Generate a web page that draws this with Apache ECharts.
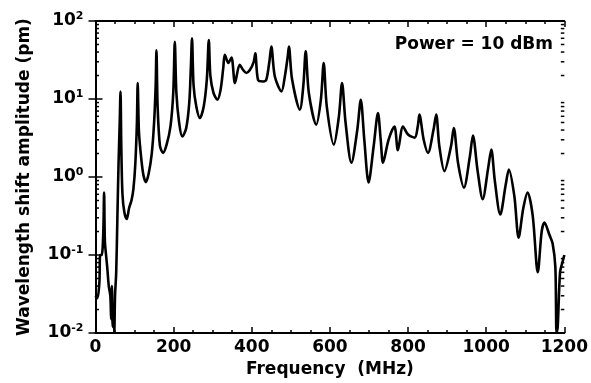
<!DOCTYPE html>
<html>
<head>
<meta charset="utf-8">
<script src="https://cdn.jsdelivr.net/npm/echarts@6/dist/echarts.min.js"></script>
<style>
html,body{margin:0;padding:0;background:#fff;}
#chart{width:591px;height:383px;}
</style>
</head>
<body>
<div id="chart"></div>
<script>
const xTickLabels = ['0','200','400','600','800','1000','1200'];
const yDecades = [0.01, 0.1, 1, 10, 100];
const minorMultipliers = [2,3,4,5,6,7,8,9];
const annotation = 'Power = 10 dBm';
const xName = 'Frequency  (MHz)';
const yName = 'Wavelength shift amplitude (pm)';

const freq = [0,5,10,12,16,20,22,24,27,30,34,38,40,42,44,46,48,50,53,56,59,62,64,66,69,74,80,86,92,97,102,106,108,111,115,122,129,136,144,150,154,156,159,165,173,182,192,199,203,207,214,222,232,240,244,247,251,258,267,277,285,290,294,302,312,320,327,331,340,348,357,369,378,386,395,405,409,416,429,437,445,450,459,476,485,492,495,503,523,532,538,546,565,577,584,592,610,623,631,640,655,670,679,688,699,712,723,730,736,750,765,774,787,800,817,825,829,840,851,865,872,880,893,910,917,928,943,958,966,978,991,1005,1013,1022,1036,1050,1058,1072,1083,1095,1106,1119,1132,1142,1149,1162,1170,1177,1180,1183,1189,1195,1200];
const amp = [0.03,0.028,0.045,0.1,0.1,0.2,0.63,0.15,0.1,0.07,0.04,0.03,0.015,0.04,0.012,0.02,0.01,0.03,0.06,0.3,1.5,5,12.5,2.5,0.6,0.35,0.29,0.4,0.5,0.7,1.5,5,16,4,2.2,1.1,0.86,1.1,2,5,15,42,8,2.5,2.04,2.6,4.5,12,54,12,5,3.3,4.2,9,25,60,15,8,5.7,8,18,57,20,12,9.8,13,25,37,29,34,16,27.5,23.5,21.5,23.5,30,38.6,17.6,16.8,17.6,30,47,19.4,12.5,20,35,47,18,7.3,15,41,12,4.7,10,29,8,2.6,6,16,5,1.52,4,9.8,3,0.85,2.5,6.6,3,1.52,3,4.45,2.2,4.45,3.5,3.2,4.5,6.3,3,2.04,4,6.3,2.5,1.19,2.5,4.25,1.5,0.73,1.8,3.4,1.2,0.52,1.3,2.25,0.9,0.33,0.8,1.25,0.57,0.167,0.4,0.63,0.32,0.06,0.2,0.26,0.18,0.14,0.07,0.01,0.012,0.06,0.08,0.1];

const FONT = 'DejaVu Sans';
const lineData = freq.map((f, i) => [f, amp[i]]);
const minorData = [];
yDecades.slice(0, -1).forEach(d => minorMultipliers.forEach(m => minorData.push([0, +(m * d).toPrecision(3)])));

const xMin = +xTickLabels[0], xMax = +xTickLabels[xTickLabels.length - 1];
const xInterval = +xTickLabels[1] - +xTickLabels[0];

const chart = echarts.init(document.getElementById('chart'), null, {renderer: 'canvas'});
const axisLineStyle = {color: '#000', width: 2};
function supLabel(v) {
  const e = Math.round(Math.log10(v));
  return '{b|10}{s|' + (e < 0 ? '-' + (-e) : '' + e) + '}';
}
chart.setOption({
  animation: false,
  backgroundColor: '#fff',
  grid: {left: 95.5, right: 26, top: 21, bottom: 49, containLabel: false},
  xAxis: [{
    type: 'value', min: xMin, max: xMax, interval: xInterval,
    position: 'bottom',
    name: xName, nameLocation: 'middle', nameGap: 28,
    nameTextStyle: {fontFamily: FONT, fontWeight: 'bold', fontSize: 17, color: '#000'},
    axisLine: {show: true, lineStyle: axisLineStyle},
    axisTick: {show: true, inside: true, length: 6, lineStyle: {color: '#000', width: 1.5}},
    minorTick: {show: true, splitNumber: 4, length: 3, lineStyle: {color: '#000', width: 1.5}},
    splitLine: {show: false},
    axisLabel: {
      fontFamily: FONT, fontWeight: 'bold', fontSize: 17, color: '#000', margin: 6,
      formatter: function (v) { const i = Math.round((v - xMin) / xInterval); return xTickLabels[i] || ''; }
    }
  }, {
    type: 'value', min: xMin, max: xMax, interval: xInterval,
    position: 'top',
    axisLine: {show: true, lineStyle: axisLineStyle},
    axisTick: {show: true, inside: true, length: 6, lineStyle: {color: '#000', width: 1.5}},
    minorTick: {show: true, splitNumber: 4, length: 3, lineStyle: {color: '#000', width: 1.5}},
    splitLine: {show: false},
    axisLabel: {show: false}
  }],
  yAxis: [{
    type: 'log', logBase: 10, min: yDecades[0], max: yDecades[yDecades.length - 1],
    position: 'left',
    name: yName, nameLocation: 'middle', nameGap: 62,
    nameTextStyle: {fontFamily: FONT, fontWeight: 'bold', fontSize: 17, color: '#000'},
    axisLine: {show: true, lineStyle: axisLineStyle},
    axisTick: {show: true, inside: true, length: 7, lineStyle: {color: '#000', width: 1.5}},
    splitLine: {show: false},
    axisLabel: {
      margin: 12, color: '#000',
      formatter: supLabel,
      rich: {
        b: {fontFamily: FONT, fontWeight: 'bold', fontSize: 17, color: '#000', lineHeight: 20},
        s: {fontFamily: FONT, fontWeight: 'bold', fontSize: 11, color: '#000', verticalAlign: 'top', lineHeight: 12}
      }
    }
  }, {
    type: 'log', logBase: 10, min: yDecades[0], max: yDecades[yDecades.length - 1],
    position: 'right',
    axisLine: {show: true, lineStyle: axisLineStyle},
    axisTick: {show: true, inside: true, length: 7, lineStyle: {color: '#000', width: 1.5}},
    splitLine: {show: false},
    axisLabel: {show: false}
  }],
  graphic: [{
    type: 'text', right: 38, top: 36,
    style: {text: annotation, font: 'bold 17px "DejaVu Sans"', fill: '#000'}
  }],
  series: [{
    type: 'line', xAxisIndex: 0, yAxisIndex: 0,
    data: lineData, showSymbol: false, symbol: 'none',
    smooth: 0.3,
    lineStyle: {color: '#000', width: 2.6, join: 'round'},
    clip: true, z: 3
  }, {
    type: 'custom', xAxisIndex: 0, yAxisIndex: 0,
    data: minorData, silent: true, clip: false,
    renderItem: function (params, api) {
      const v = api.value(1);
      const pl = api.coord([xMin, v]);
      const pr = api.coord([xMax, v]);
      return {
        type: 'group',
        children: [
          {type: 'line', shape: {x1: pl[0], y1: pl[1], x2: pl[0] + 3.5, y2: pl[1]}, style: {stroke: '#000', lineWidth: 1.5}},
          {type: 'line', shape: {x1: pr[0], y1: pr[1], x2: pr[0] - 3.5, y2: pr[1]}, style: {stroke: '#000', lineWidth: 1.5}}
        ]
      };
    }
  }]
});
</script>
</body>
</html>
